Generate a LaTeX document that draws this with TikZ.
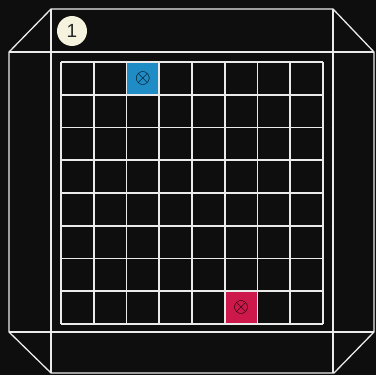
\documentclass[tikz,border=0pt]{standalone}
\usepackage{fontspec}
\newfontfamily\badgefont{Liberation Sans}
\usepackage{xcolor}
\definecolor{boardbg}{RGB}{14,14,14}
\definecolor{chalk}{RGB}{234,234,234}
\definecolor{tileblue}{RGB}{32,140,198}
\definecolor{tilered}{RGB}{204,24,74}
\definecolor{badgecream}{RGB}{245,242,222}

\begin{document}
\begin{tikzpicture}[x=1pt, y=-1pt,
  frame/.style={draw=chalk, line width=1.3pt, line join=round},
  gridline/.style={draw=chalk, line width=1.9pt},
  tile/.style={minimum size=31pt, inner sep=0pt},
  badgeb/.style={circle, fill=badgecream, minimum size=30pt, inner sep=0pt,
                 text=black!85, font=\badgefont\fontsize{19}{19}\selectfont},
]
% Background
\fill[boardbg] (0,0) rectangle (376,375);
\useasboundingbox (0,0) rectangle (376,375);

% Outer frame (box seen from above)
\draw[frame] (51,9) -- (333,9) -- (374,52) -- (374,332) -- (334,373)
  -- (51,373) -- (9,332) -- (9,52) -- cycle;
\draw[frame] (9,52) -- (374,52);
\draw[frame] (9,332) -- (374,332);
\draw[frame] (51,9) -- (51,373);
\draw[frame] (333,9) -- (333,373);

% Marked tiles
\node[tile, fill=tileblue] (blue) at (142.9,78.4) {\scalebox{2}{$\otimes$}};
\node[tile, fill=tilered]  (red)  at (241.1,307.6) {\scalebox{2}{$\otimes$}};

% 8x8 grid
\foreach \i in {0,...,8} {
  \draw[gridline] (61+\i*32.75,62) -- (61+\i*32.75,324);
  \draw[gridline] (61,62+\i*32.75) -- (323,62+\i*32.75);
}

% Number badge
\node[badgeb] (one) at (72,31) {1};
\end{tikzpicture}
\end{document}
